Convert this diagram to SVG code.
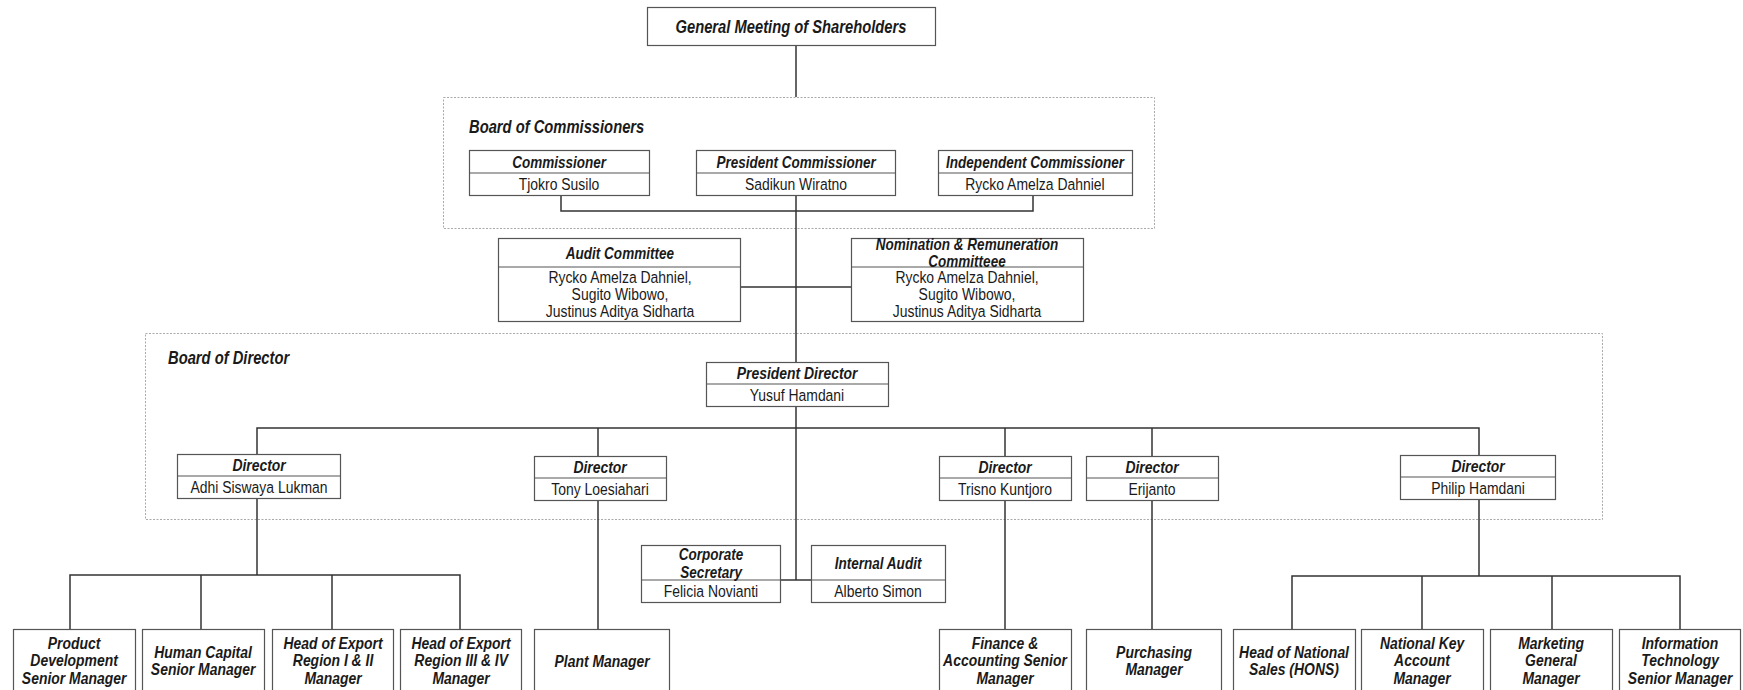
<svg xmlns="http://www.w3.org/2000/svg" width="1743" height="690" viewBox="0 0 1743 690">
<style>
text{font-family:"Liberation Sans Narrow","Arial Narrow","Liberation Sans",sans-serif;fill:#1a1a1a;text-anchor:middle;dominant-baseline:central;transform-box:fill-box;transform-origin:center;transform:scaleX(0.82)}
.lb{font-size:18px;font-weight:bold;font-style:italic;text-anchor:start;transform-origin:left center}
.gm{font-size:18px;font-weight:bold;font-style:italic}
.hd{font-size:16.5px;font-weight:bold;font-style:italic}
.bt{font-size:17px;font-weight:bold;font-style:italic}
.nm{font-size:17px}
.bx{fill:#fff;stroke:#555;stroke-width:1.2}
.dv{stroke:#555;stroke-width:1.2}
.grp{fill:none;stroke:#aaa;stroke-width:1;stroke-dasharray:2 1.5}
.cn{fill:none;stroke:#333;stroke-width:1.5}
</style>
<rect class="grp" x="443.5" y="97.5" width="711" height="131"/>
<rect class="grp" x="145.5" y="333.5" width="1457" height="186"/>
<text class="lb" x="469" y="126">Board of Commissioners</text>
<text class="lb" x="168" y="357">Board of Director</text>
<g id="connectors">
<path class="cn" d="M796 45V97"/>
<path class="cn" d="M796 195V362"/>
<path class="cn" d="M561 195V211H1033V195"/>
<path class="cn" d="M741 287H851"/>
<path class="cn" d="M796 406V580"/>
<path class="cn" d="M780 580H811"/>
<path class="cn" d="M257 454V428H1479V455"/>
<path class="cn" d="M598 428V456"/>
<path class="cn" d="M1005 428V456"/>
<path class="cn" d="M1152 428V456"/>
<path class="cn" d="M257 498V575"/>
<path class="cn" d="M70 629V575H460V629"/>
<path class="cn" d="M201 575V629"/>
<path class="cn" d="M332 575V629"/>
<path class="cn" d="M598 500V629"/>
<path class="cn" d="M1005 500V629"/>
<path class="cn" d="M1152 500V629"/>
<path class="cn" d="M1479 499V576"/>
<path class="cn" d="M1292 629V576H1680V629"/>
<path class="cn" d="M1422 576V629"/>
<path class="cn" d="M1552 576V629"/>
</g>
<g id="gms"><rect class="bx" x="647.5" y="7.5" width="288" height="38"/><text class="gm" x="791" y="26">General Meeting of Shareholders</text></g>
<g id="commissioner"><rect class="bx" x="469.5" y="150.5" width="180" height="45"/><line class="dv" x1="469.5" y1="173" x2="649.5" y2="173"/><text class="hd" x="559" y="162">Commissioner</text><text class="nm" x="559" y="184">Tjokro Susilo</text></g>
<g id="president-commissioner"><rect class="bx" x="696.5" y="150.5" width="199" height="45"/><line class="dv" x1="696.5" y1="173" x2="895.5" y2="173"/><text class="hd" x="796" y="162">President Commissioner</text><text class="nm" x="796" y="184">Sadikun Wiratno</text></g>
<g id="independent-commissioner"><rect class="bx" x="938.5" y="150.5" width="194" height="45"/><line class="dv" x1="938.5" y1="173" x2="1132.5" y2="173"/><text class="hd" x="1035" y="162">Independent Commissioner</text><text class="nm" x="1035" y="184">Rycko Amelza Dahniel</text></g>
<g id="audit-committee"><rect class="bx" x="498.5" y="238.5" width="242" height="83"/><line class="dv" x1="498.5" y1="267" x2="740.5" y2="267"/><text class="hd" x="620" y="253">Audit Committee</text><text class="nm" x="620" y="277">Rycko Amelza Dahniel,</text><text class="nm" x="620" y="294">Sugito Wibowo,</text><text class="nm" x="620" y="311">Justinus Aditya Sidharta</text></g>
<g id="nomination-committee"><rect class="bx" x="851.5" y="238.5" width="232" height="83"/><line class="dv" x1="851.5" y1="267" x2="1083.5" y2="267"/><text class="hd" x="967" y="244">Nomination &amp; Remuneration</text><text class="hd" x="967" y="261">Committeee</text><text class="nm" x="967" y="277">Rycko Amelza Dahniel,</text><text class="nm" x="967" y="294">Sugito Wibowo,</text><text class="nm" x="967" y="311">Justinus Aditya Sidharta</text></g>
<g id="president-director"><rect class="bx" x="706.5" y="362.5" width="182" height="44"/><line class="dv" x1="706.5" y1="384" x2="888.5" y2="384"/><text class="bt" x="797" y="373">President Director</text><text class="nm" x="797" y="395">Yusuf Hamdani</text></g>
<g id="director-adhi"><rect class="bx" x="177.5" y="454.5" width="163" height="44"/><line class="dv" x1="177.5" y1="476" x2="340.5" y2="476"/><text class="bt" x="259" y="465">Director</text><text class="nm" x="259" y="487">Adhi Siswaya Lukman</text></g>
<g id="director-tony"><rect class="bx" x="534.5" y="456.5" width="132" height="44"/><line class="dv" x1="534.5" y1="478" x2="666.5" y2="478"/><text class="bt" x="600" y="467">Director</text><text class="nm" x="600" y="489">Tony Loesiahari</text></g>
<g id="director-trisno"><rect class="bx" x="939.5" y="456.5" width="132" height="44"/><line class="dv" x1="939.5" y1="478" x2="1071.5" y2="478"/><text class="bt" x="1005" y="467">Director</text><text class="nm" x="1005" y="489">Trisno Kuntjoro</text></g>
<g id="director-erijanto"><rect class="bx" x="1086.5" y="456.5" width="132" height="44"/><line class="dv" x1="1086.5" y1="478" x2="1218.5" y2="478"/><text class="bt" x="1152" y="467">Director</text><text class="nm" x="1152" y="489">Erijanto</text></g>
<g id="director-philip"><rect class="bx" x="1400.5" y="455.5" width="155" height="44"/><line class="dv" x1="1400.5" y1="477" x2="1555.5" y2="477"/><text class="bt" x="1478" y="466">Director</text><text class="nm" x="1478" y="488">Philip Hamdani</text></g>
<g id="corporate-secretary"><rect class="bx" x="641.5" y="545.5" width="139" height="57"/><line class="dv" x1="641.5" y1="580" x2="780.5" y2="580"/><text class="hd" x="711" y="554">Corporate</text><text class="hd" x="711" y="572">Secretary</text><text class="nm" x="711" y="591">Felicia Novianti</text></g>
<g id="internal-audit"><rect class="bx" x="811.5" y="545.5" width="134" height="57"/><line class="dv" x1="811.5" y1="580" x2="945.5" y2="580"/><text class="hd" x="878" y="563">Internal Audit</text><text class="nm" x="878" y="591">Alberto Simon</text></g>
<g id="product-development"><rect class="bx" x="13.5" y="629.5" width="122" height="70"/><text class="bt" x="74" y="643">Product</text><text class="bt" x="74" y="660">Development</text><text class="bt" x="74" y="678">Senior Manager</text></g>
<g id="human-capital"><rect class="bx" x="142.5" y="629.5" width="122" height="70"/><text class="bt" x="203" y="652">Human Capital</text><text class="bt" x="203" y="669">Senior Manager</text></g>
<g id="export-1-2"><rect class="bx" x="272.5" y="629.5" width="121" height="70"/><text class="bt" x="333" y="643">Head of Export</text><text class="bt" x="333" y="660">Region I &amp; II</text><text class="bt" x="333" y="678">Manager</text></g>
<g id="export-3-4"><rect class="bx" x="400.5" y="629.5" width="121" height="70"/><text class="bt" x="461" y="643">Head of Export</text><text class="bt" x="461" y="660">Region III &amp; IV</text><text class="bt" x="461" y="678">Manager</text></g>
<g id="plant-manager"><rect class="bx" x="534.5" y="629.5" width="135" height="70"/><text class="bt" x="602" y="661">Plant Manager</text></g>
<g id="finance"><rect class="bx" x="939.5" y="629.5" width="132" height="70"/><text class="bt" x="1005" y="643">Finance &amp;</text><text class="bt" x="1005" y="660">Accounting Senior</text><text class="bt" x="1005" y="678">Manager</text></g>
<g id="purchasing"><rect class="bx" x="1086.5" y="629.5" width="135" height="70"/><text class="bt" x="1154" y="652">Purchasing</text><text class="bt" x="1154" y="669">Manager</text></g>
<g id="hons"><rect class="bx" x="1233.5" y="629.5" width="122" height="70"/><text class="bt" x="1294" y="652">Head of National</text><text class="bt" x="1294" y="669">Sales (HONS)</text></g>
<g id="nka"><rect class="bx" x="1361.5" y="629.5" width="122" height="70"/><text class="bt" x="1422" y="643">National Key</text><text class="bt" x="1422" y="660">Account</text><text class="bt" x="1422" y="678">Manager</text></g>
<g id="marketing"><rect class="bx" x="1490.5" y="629.5" width="122" height="70"/><text class="bt" x="1551" y="643">Marketing</text><text class="bt" x="1551" y="660">General</text><text class="bt" x="1551" y="678">Manager</text></g>
<g id="it"><rect class="bx" x="1619.5" y="629.5" width="121" height="70"/><text class="bt" x="1680" y="643">Information</text><text class="bt" x="1680" y="660">Technology</text><text class="bt" x="1680" y="678">Senior Manager</text></g>
</svg>
